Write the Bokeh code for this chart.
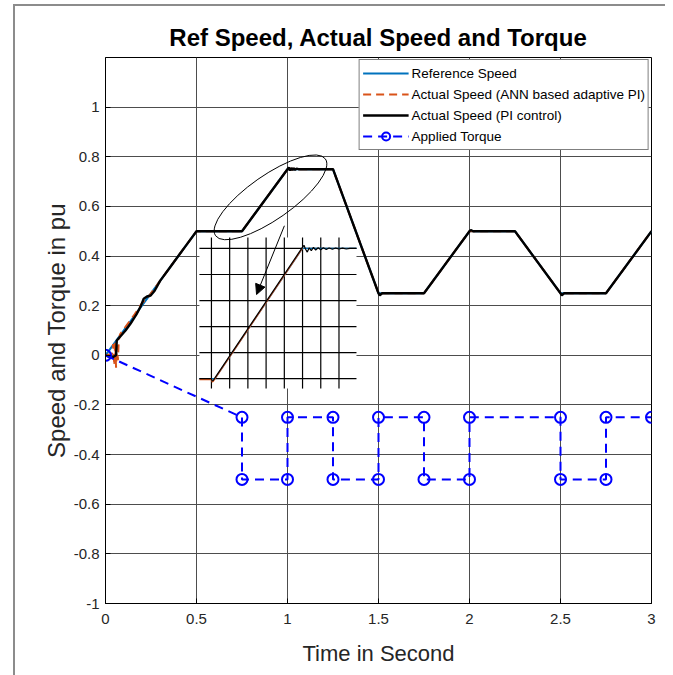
from bokeh.plotting import figure
from bokeh.layouts import column
from bokeh.models import (Range1d, FixedTicker, Legend, LegendItem, Arrow,
                          NormalHead)
from bokeh.embed import file_html
from bokeh.resources import INLINE

FONT = "Liberation Sans"

# ---- speed reference (pu) -------------------------------------------------
ref_t = [0, 0.5, 0.75, 1.0, 1.25, 1.5, 1.75, 2.0, 2.25, 2.5, 2.75, 3.0]
ref_w = [0, 0.5, 0.5, 0.75, 0.75, 0.25, 0.25, 0.5, 0.5, 0.25, 0.25, 0.5]

# ---- actual speed, ANN based adaptive PI ----------------------------------
ann_t = [0, 0.035, 0.042, 0.048, 0.053, 0.058, 0.063, 0.068, 0.073, 0.08, 0.10,
         0.12, 0.16, 0.20, 0.24, 0.28, 0.5, 0.75, 1.0, 1.006,
         1.012, 1.018, 1.024, 1.03, 1.04, 1.25, 1.5, 1.75, 2.0, 2.25, 2.5,
         2.75, 3.0]
ann_w = [0, 0.005, 0.045, -0.04, 0.05, -0.05, 0.04, -0.02, 0.06, 0.085, 0.105,
         0.125, 0.165, 0.21, 0.24, 0.28, 0.5, 0.5, 0.75, 0.756,
         0.746, 0.754, 0.747, 0.752, 0.75, 0.75, 0.25, 0.25, 0.5, 0.5, 0.25,
         0.25, 0.5]

# ---- actual speed, conventional PI ----------------------------------------
pi_t = [0, 0.035, 0.058, 0.062, 0.08, 0.11, 0.137, 0.17, 0.195, 0.21, 0.228,
        0.248, 0.27, 0.30, 0.35, 0.40, 0.45, 0.50, 0.75, 1.0,
        1.007, 1.014, 1.021, 1.028, 1.035, 1.042, 1.05, 1.06, 1.25, 1.5,
        1.507, 1.52, 1.75, 2.0, 2.007, 2.02, 2.25, 2.5, 2.507,
        2.52, 2.75, 3.0]
pi_w = [0, -0.01, 0.0, 0.06, 0.075, 0.10, 0.127, 0.165, 0.20, 0.228, 0.237,
        0.241, 0.26, 0.30, 0.35, 0.40, 0.45, 0.50, 0.50, 0.75,
        0.757, 0.745, 0.755, 0.746, 0.754, 0.747, 0.752, 0.75, 0.75, 0.25,
        0.242, 0.25, 0.25, 0.5, 0.505, 0.5, 0.5, 0.25, 0.242,
        0.25, 0.25, 0.5]

# ---- applied load torque (pu) ---------------------------------------------
tq_t = [0, 0.75, 0.75, 1.0, 1.0, 1.25, 1.25, 1.5, 1.5, 1.75, 1.75, 2.0, 2.0,
        2.5, 2.5, 2.75, 2.75, 3.0]
tq_v = [0, -0.25, -0.5, -0.5, -0.25, -0.25, -0.5, -0.5, -0.25, -0.25, -0.5,
        -0.5, -0.25, -0.25, -0.5, -0.5, -0.25, -0.25]

# ---- zoomed detail of the 0.5 -> 0.75 pu step -----------------------------
zoom_t = [0.717, 0.75, 0.752, 0.755, 0.76, 1.0, 1.004, 1.008, 1.013, 1.018,
          1.024, 1.03, 1.036, 1.043, 1.05, 1.057, 1.065, 1.073, 1.082, 1.091,
          1.1, 1.11, 1.12, 1.13, 1.148]
zoom_pi = [0.5, 0.5, 0.4955, 0.4965, 0.502, 0.7525, 0.756, 0.749, 0.743,
           0.751, 0.746, 0.752, 0.747, 0.7515, 0.7475, 0.7512, 0.748, 0.751,
           0.7485, 0.7508, 0.749, 0.7505, 0.749, 0.7503, 0.75]
zoom_ref = [0.5, 0.5, 0.5, 0.5, 0.5, 0.75, 0.75, 0.75, 0.75, 0.75, 0.75, 0.75,
            0.75, 0.75, 0.75, 0.75, 0.75, 0.75, 0.75, 0.75, 0.75, 0.75, 0.75,
            0.75, 0.75]
zoom_grid_t = [0.75, 0.80, 0.85, 0.90, 0.95, 1.00, 1.05, 1.10]
zoom_grid_w = [0.50, 0.55, 0.60, 0.65, 0.70, 0.75]

# window of the detail view and where it sits on the main axes
zoom_win = (0.717, 1.148, 0.481, 0.771)
zoom_box = (0.516, 1.379, -0.134, 0.4746)

x_ticks = [0, 0.5, 1, 1.5, 2, 2.5, 3]
y_ticks = [-1, -0.8, -0.6, -0.4, -0.2, 0, 0.2, 0.4, 0.6, 0.8, 1]
x_labels = ["0", "0.5", "1", "1.5", "2", "2.5", "3"]
y_labels = ["-1", "-0.8", "-0.6", "-0.4", "-0.2", "0", "0.2", "0.4", "0.6",
            "0.8", "1"]

BLUE_REF = "#0072BD"
ORANGE = "#D95319"
TORQUE = "#0000FF"

p = figure(width=650, height=669, output_backend="svg", toolbar_location=None,
           x_range=Range1d(0, 3), y_range=Range1d(-1, 1.2),
           min_border_left=90, min_border_right=14, min_border_top=51,
           min_border_bottom=72, background_fill_color="white",
           border_fill_color="white")

p.title.text = "Ref Speed, Actual Speed and Torque"
p.title.align = "center"
p.title.text_font = FONT
p.title.text_font_size = "24px"
p.title.text_font_style = "bold"
p.title.text_color = "black"
p.title.standoff = 13

p.outline_line_color = "black"
p.outline_line_width = 1

for ax, ticks, labels in ((p.xaxis[0], x_ticks, x_labels),
                          (p.yaxis[0], y_ticks, y_labels)):
    ax.ticker = FixedTicker(ticks=ticks)
    ax.major_label_overrides = {t: s for t, s in zip(ticks, labels)}
    ax.major_label_text_font = FONT
    ax.major_label_text_font_size = "15px"
    ax.major_label_text_color = "#262626"
    ax.axis_line_color = "black"
    ax.major_tick_in = 5
    ax.major_tick_out = 0
    ax.major_tick_line_color = "black"
    ax.minor_tick_line_color = None
    ax.axis_label_text_font = FONT
    ax.axis_label_text_font_style = "normal"
    ax.axis_label_text_color = "#262626"

p.xaxis.major_label_standoff = 10
p.yaxis.major_label_standoff = 6
p.xaxis.axis_label = "Time in Second"
p.xaxis.axis_label_text_font_size = "22px"
p.xaxis.axis_label_standoff = 14
p.yaxis.axis_label = "Speed and Torque in pu"
p.yaxis.axis_label_text_font_size = "24px"
p.yaxis.axis_label_standoff = 1

p.xgrid.ticker = FixedTicker(ticks=x_ticks)
p.ygrid.ticker = FixedTicker(ticks=y_ticks)
for g in (p.xgrid[0], p.ygrid[0]):
    g.grid_line_color = "#4d4d4d"
    g.grid_line_width = 1

# ---- detail view ----------------------------------------------------------
it0, it1, iv0, iv1 = zoom_win
bx0, bx1, by0, by1 = zoom_box


def zx(t):
    return bx0 + (t - it0) / (it1 - it0) * (bx1 - bx0)


def zy(v):
    return by0 + (v - iv0) / (iv1 - iv0) * (by1 - by0)


p.quad(left=[bx0], right=[bx1], bottom=[by0], top=[by1],
       fill_color="white", line_color=None)
p.segment(x0=[zx(t) for t in zoom_grid_t], x1=[zx(t) for t in zoom_grid_t],
          y0=[by0] * len(zoom_grid_t), y1=[by1] * len(zoom_grid_t),
          line_color="black", line_width=1.2)
p.segment(x0=[bx0] * len(zoom_grid_w), x1=[bx1] * len(zoom_grid_w),
          y0=[zy(w) for w in zoom_grid_w], y1=[zy(w) for w in zoom_grid_w],
          line_color="black", line_width=1.2)
p.line([zx(t) for t in zoom_t], [zy(w) for w in zoom_ref],
       line_color=BLUE_REF, line_width=1.2)
p.line([zx(t) for t in zoom_t[:6]], [zy(w - 0.002) for w in zoom_pi[:6]],
       line_color=ORANGE, line_width=1.2)
p.line([zx(t) for t in zoom_t], [zy(w) for w in zoom_pi],
       line_color="black", line_width=1.2)

# ---- main traces ----------------------------------------------------------
r_ref = p.line(ref_t, ref_w, line_color=BLUE_REF, line_width=2)
r_ann = p.line(ann_t, ann_w, line_color=ORANGE, line_width=2,
               line_dash="8 5")
r_pi = p.line(pi_t, pi_w, line_color="black", line_width=2.4)
r_tq = p.line(tq_t, tq_v, line_color=TORQUE, line_width=2, line_dash="9 6")
r_tqm = p.scatter(tq_t, tq_v, marker="circle", size=11, fill_color=None,
                  line_color=TORQUE, line_width=2)

# highlight of the step with an arrow to the detail view
p.ellipse(x=[0.9066], y=[0.6365], width=[134], height=[44], angle=[0.61],
          width_units="screen", height_units="screen", fill_color=None,
          line_color="black", line_width=1)
p.add_layout(Arrow(end=NormalHead(size=10, fill_color="black",
                                  line_color="black"),
                   x_start=0.983, y_start=0.522, x_end=0.830, y_end=0.245,
                   line_color="black", line_width=1))

legend = Legend(items=[
    LegendItem(label="Reference Speed", renderers=[r_ref]),
    LegendItem(label="Actual Speed (ANN based adaptive PI)", renderers=[r_ann]),
    LegendItem(label="Actual Speed (PI control)", renderers=[r_pi]),
    LegendItem(label="Applied Torque", renderers=[r_tq, r_tqm]),
], location="top_right", margin=2)
legend.label_text_font = FONT
legend.label_text_font_size = "13.5px"
legend.label_text_color = "black"
legend.glyph_width = 46
legend.glyph_height = 20
legend.label_height = 20
legend.spacing = 1
legend.padding = 3
legend.label_standoff = 3
legend.border_line_color = "black"
legend.border_line_width = 1
legend.background_fill_alpha = 1
p.add_layout(legend)

# page frame: thin grey rules along the top and left edges
page = column(p, margin=(4, 0, 0, 13),
              styles={"border-top": "2px solid #8c8c8c",
                      "border-left": "2px solid #8c8c8c",
                      "background-color": "white"})

open("out.html", "w").write(file_html(page, INLINE))
